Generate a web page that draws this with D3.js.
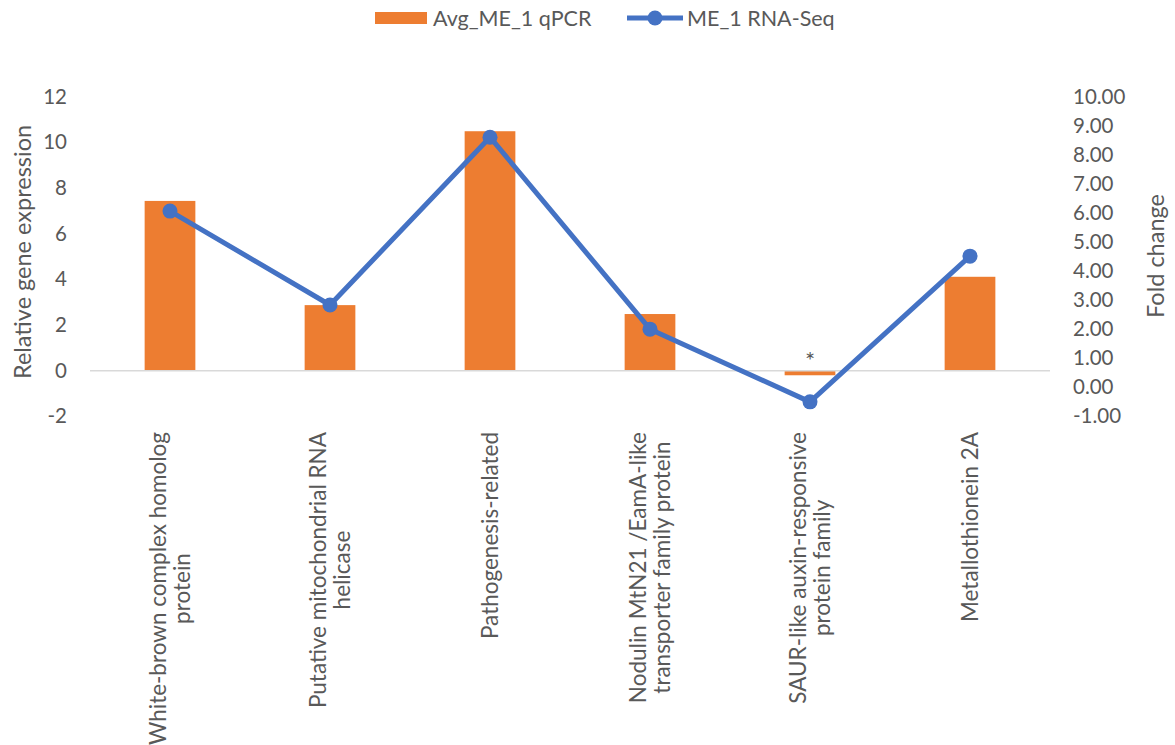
<!DOCTYPE html>
<html>
<head>
<meta charset="utf-8">
<script src="https://cdn.jsdelivr.net/npm/d3@7"></script>
<style>
  html, body { margin: 0; padding: 0; background: #fff; }
  text { font-family: Lato, "Open Sans", sans-serif; fill: #595959; }
</style>
</head>
<body>
<svg id="chart" width="1175" height="745"></svg>
<script>
// ---- data ----
const categories = [
  "White-brown complex homolog\nprotein",
  "Putative mitochondrial RNA\nhelicase",
  "Pathogenesis-related",
  "Nodulin MtN21 /EamA-like\ntransporter family protein",
  "SAUR-like auxin-responsive\nprotein family",
  "Metallothionein 2A"
];
const qpcrValues = [7.43, 2.87, 10.48, 2.48, -0.2, 4.11];
const rnaSeqValues = [6.06, 2.83, 8.6, 2.0, -0.5, 4.51];
const leftTicks = [-2, 0, 2, 4, 6, 8, 10, 12];
const rightTicks = [-1, 0, 1, 2, 3, 4, 5, 6, 7, 8, 9, 10];
const seriesNames = ["Avg_ME_1 qPCR", "ME_1 RNA-Seq"];
const annotations = [{ category: 4, text: "*" }];

// ---- layout ----
const svg = d3.select("#chart");
const plot = { left: 90, right: 1050, top: 96.5, bottom: 416.4 };
const orange = "#ED7D31", blue = "#4472C4", grey = "#595959";

const x = d3.scaleBand().domain(d3.range(categories.length))
  .range([plot.left, plot.right]).paddingInner(0.683).paddingOuter(0.3415);
const yL = d3.scaleLinear().domain([-2, 12]).range([plot.bottom, plot.top]);
const yR = d3.scaleLinear().domain([-1, 10]).range([plot.bottom, plot.top]);
const fmtL = d => String(d).replace("\u2212", "-");
const fmtR = d => d.toFixed(2);

// left axis
const axL = d3.axisLeft(yL).tickValues(leftTicks).tickSize(0).tickPadding(0).tickFormat(fmtL);
const gL = svg.append("g").attr("transform", "translate(67,0)").call(axL);
gL.select(".domain").remove();
gL.selectAll("text").attr("font-size", 20.5).attr("fill", grey)
  .style("font-family", "Lato, sans-serif");

// right axis
const axR = d3.axisRight(yR).tickValues(rightTicks).tickSize(0).tickPadding(0).tickFormat(fmtR);
const gR = svg.append("g").attr("transform", "translate(1073,0)").call(axR);
gR.select(".domain").remove();
gR.selectAll("text").attr("font-size", 20.5).attr("fill", grey)
  .style("font-family", "Lato, sans-serif");

// bars
svg.append("g").selectAll("rect").data(qpcrValues).join("rect")
  .attr("x", (d, i) => x(i))
  .attr("width", x.bandwidth())
  .attr("y", d => yL(Math.max(0, d)))
  .attr("height", d => Math.abs(yL(d) - yL(0)))
  .attr("fill", orange);

// zero line
svg.append("line")
  .attr("x1", plot.left).attr("x2", plot.right)
  .attr("y1", yL(0)).attr("y2", yL(0))
  .attr("stroke", "#D9D9D9").attr("stroke-width", 1.5);

// line series
const cx = i => x(i) + x.bandwidth() / 2;
const line = d3.line().x((d, i) => cx(i)).y(d => yR(d));
svg.append("path").datum(rnaSeqValues)
  .attr("d", line).attr("fill", "none")
  .attr("stroke", blue).attr("stroke-width", 5).attr("stroke-linejoin", "round");
svg.append("g").selectAll("circle").data(rnaSeqValues).join("circle")
  .attr("cx", (d, i) => cx(i)).attr("cy", d => yR(d)).attr("r", 7.5)
  .attr("fill", blue);

// annotation
svg.append("g").selectAll("text").data(annotations).join("text")
  .attr("x", d => cx(d.category)).attr("y", 369)
  .attr("text-anchor", "middle").attr("font-size", 24)
  .text(d => d.text);

// category labels (rotated, wrapped, centred lines)
const labelTop = 432, lineGap = 24.5;
categories.forEach((c, i) => {
  const lines = c.split("\n");
  const g = svg.append("g")
    .attr("transform", `translate(${cx(i)},${labelTop}) rotate(-90)`);
  const texts = lines.map((ln, k) => g.append("text")
    .attr("font-size", 22.5)
    .attr("text-anchor", "middle")
    .attr("dy", "0.35em")
    .attr("y", (k - (lines.length - 1) / 2) * lineGap)
    .text(ln));
  const maxLen = d3.max(texts, t => t.node().getComputedTextLength());
  texts.forEach(t => t.attr("x", -maxLen / 2));
});

// axis titles
svg.append("text")
  .attr("transform", `translate(31,252) rotate(-90)`)
  .attr("text-anchor", "middle").attr("font-size", 23.5)
  .text("Relative gene expression");
svg.append("text")
  .attr("transform", `translate(1164,256) rotate(-90)`)
  .attr("text-anchor", "middle").attr("font-size", 23.5)
  .text("Fold change");

// legend
const leg = svg.append("g");
leg.append("rect").attr("x", 375).attr("y", 12).attr("width", 52).attr("height", 12).attr("fill", orange);
leg.append("text").attr("x", 433).attr("y", 18).attr("dy", "0.35em").attr("font-size", 21.5).text(seriesNames[0]);
leg.append("line").attr("x1", 627).attr("x2", 683).attr("y1", 18).attr("y2", 18)
  .attr("stroke", blue).attr("stroke-width", 5);
leg.append("circle").attr("cx", 655).attr("cy", 18).attr("r", 7.5).attr("fill", blue);
leg.append("text").attr("x", 687).attr("y", 18).attr("dy", "0.35em").attr("font-size", 21.5).text(seriesNames[1]);
</script>
</body>
</html>
